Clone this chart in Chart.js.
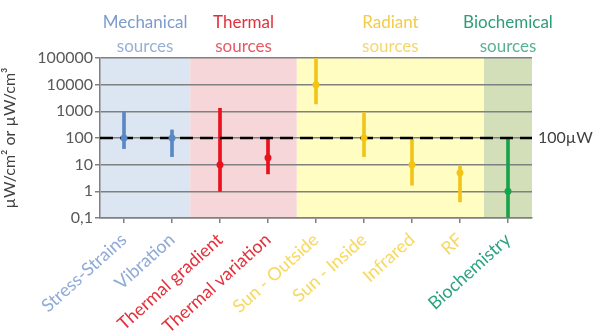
<!DOCTYPE html>
<html>
<head>
<meta charset="utf-8">
<script src="https://cdn.jsdelivr.net/npm/chart.js@4/dist/chart.umd.min.js"></script>
<style>
  html, body { margin: 0; padding: 0; background: #ffffff; }
  #wrap { width: 596px; height: 336px; position: relative; }
</style>
</head>
<body>
<div id="wrap"><canvas id="c"></canvas></div>
<script>
// Energy sources: typical power density and its range (µW/cm² or µW/cm³)
const categories = ['Stress-Strains', 'Vibration', 'Thermal gradient', 'Thermal variation',
                    'Sun - Outside', 'Sun - Inside', 'Infrared', 'RF', 'Biochemistry'];
const typicalValues = [100, 100, 10, 18, 10000, 100, 10, 5, 1];
const rangeLow  = [40, 20, 1, 4.5, 1900, 20, 1.7, 0.4, 0.1];
const rangeHigh = [1000, 200, 1300, 100, 100000, 900, 90, 9, 100];
const categoryGroup = [0, 0, 1, 1, 2, 2, 2, 2, 3];

const groupNames = [['Mechanical', 'sources'], ['Thermal', 'sources'], ['Radiant', 'sources'], ['Biochemical', 'sources']];
const yTickValues = [0.1, 1, 10, 100, 1000, 10000, 100000];
const yTickLabels = ['0,1', '1', '10', '100', '1000', '10000', '100000'];
const thresholdValue = 100;
const thresholdLabel = '100µW';

// styling
const FONT = 'Lato, "Liberation Sans", sans-serif';
const markColors  = ['#5B87C5', '#E8111E', '#F2C418', '#17A34C'];
const bandColors  = ['#DCE6F2', '#F6D6D8', '#FFFDC2', '#D3DFB8'];
const labelColors = ['#8FAAD6', '#E3323C', '#F7D860', '#2BA380'];
const titleColors = ['#7C9CCB', '#E0303C', '#F3CC48', '#2E9E78'];
// band edges expressed in category-index units
const bandEdges = [-0.5, 1.38, 3.6, 7.5, 8.5];

const bandsPlugin = {
  id: 'bands',
  beforeDraw(chart) {
    const { ctx, chartArea, scales } = chart;
    const x = scales.x;
    ctx.save();
    for (let g = 0; g < bandColors.length; g++) {
      const x0 = x.getPixelForValue(bandEdges[g]);
      const x1 = x.getPixelForValue(bandEdges[g + 1]);
      ctx.fillStyle = bandColors[g];
      ctx.fillRect(x0, chartArea.top, x1 - x0, chartArea.bottom - chartArea.top);
    }
    ctx.restore();
  },
  afterDatasetDraw(chart, args) {
    if (args.index !== 0) return;
    const { ctx, chartArea, scales } = chart;
    const y = scales.y.getPixelForValue(thresholdValue);
    ctx.save();
    ctx.strokeStyle = '#000000';
    ctx.lineWidth = 2.5;
    ctx.setLineDash([13, 7]);
    ctx.beginPath();
    ctx.moveTo(chartArea.left, y);
    ctx.lineTo(chartArea.right, y);
    ctx.stroke();
    ctx.setLineDash([]);
    ctx.fillStyle = '#404040';
    ctx.font = '16px ' + FONT;
    ctx.textAlign = 'left';
    ctx.textBaseline = 'middle';
    ctx.fillText(thresholdLabel, chartArea.right + 6, y);
    ctx.restore();
  },
  afterDraw(chart) {
    const { ctx, scales } = chart;
    const x = scales.x;
    ctx.save();
    ctx.font = '17px ' + FONT;
    ctx.textAlign = 'center';
    ctx.textBaseline = 'middle';
    for (let g = 0; g < groupNames.length; g++) {
      const cx = (x.getPixelForValue(bandEdges[g]) + x.getPixelForValue(bandEdges[g + 1])) / 2;
      ctx.fillStyle = titleColors[g];
      ctx.fillText(groupNames[g][0], cx, 23);
      ctx.globalAlpha = 0.8;
      ctx.fillText(groupNames[g][1], cx, 47);
      ctx.globalAlpha = 1;
    }
    ctx.restore();
  }
};

new Chart(document.getElementById('c'), {
  data: {
    labels: categories,
    datasets: [
      {
        type: 'bar',
        data: categories.map((_, i) => [rangeLow[i], rangeHigh[i]]),
        backgroundColor: categoryGroup.map(g => markColors[g]),
        barThickness: 3,
        borderWidth: 0,
        order: 2
      },
      {
        type: 'line',
        data: typicalValues,
        showLine: false,
        pointRadius: 3.5,
        pointBorderWidth: 0,
        pointBackgroundColor: categoryGroup.map(g => markColors[g]),
        order: 1
      }
    ]
  },
  options: {
    responsive: true,
    maintainAspectRatio: false,
    animation: false,
    events: [],
    layout: { padding: { top: 58, right: 64, left: 0, bottom: 0 } },
    plugins: { legend: { display: false }, tooltip: { enabled: false } },
    scales: {
      x: {
        type: 'category',
        offset: true,
        border: { display: true, color: '#808080', width: 1.5 },
        grid: { drawOnChartArea: false, drawTicks: true, tickLength: 5, offset: false, color: '#808080', lineWidth: 1.5 },
        ticks: {
          minRotation: 42, maxRotation: 42, autoSkip: false, padding: 6,
          font: { family: FONT, size: 18 },
          color: ctx => labelColors[categoryGroup[ctx.index]]
        },
        afterFit(scale) { scale.height = 118; }
      },
      y: {
        type: 'logarithmic',
        min: 0.1, max: 100000,
        border: { display: true, color: '#808080', width: 1.5 },
        grid: { color: '#808080', lineWidth: 1.5, drawTicks: true, tickLength: 5 },
        afterBuildTicks(scale) { scale.ticks = yTickValues.map(v => ({ value: v })); },
        ticks: {
          font: { family: FONT, size: 16 },
          color: '#595959',
          padding: 2,
          callback: (v) => { const k = yTickValues.indexOf(v); return k >= 0 ? yTickLabels[k] : ''; }
        },
        title: {
          display: true,
          text: 'µW/cm² or µW/cm³',
          font: { family: FONT, size: 16 },
          color: '#404040',
          padding: { top: 0, bottom: 2 }
        },
        afterFit(scale) { scale.width = 100; }
      }
    }
  },
  plugins: [bandsPlugin]
});
</script>
</body>
</html>
